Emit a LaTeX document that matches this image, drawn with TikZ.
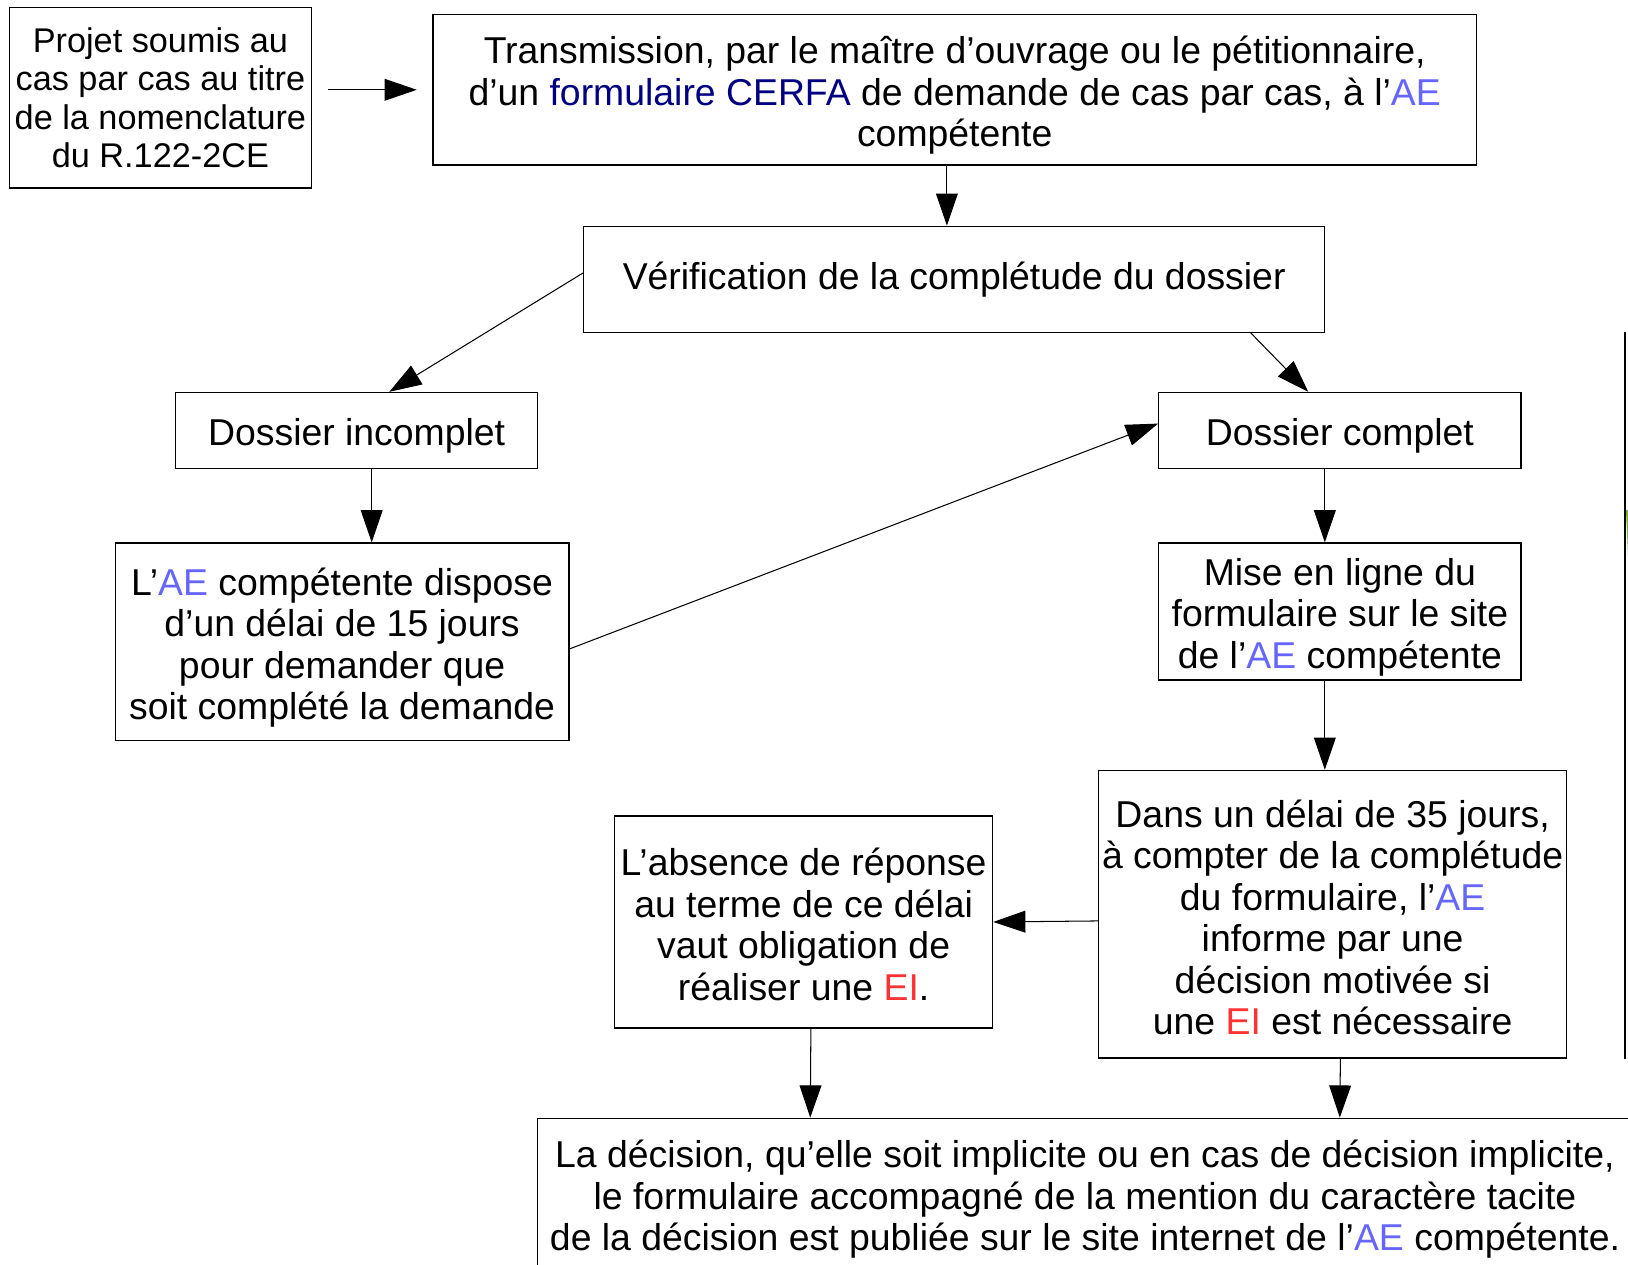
\documentclass[tikz,border=0pt]{standalone}
\usepackage{fontspec}
\setmainfont{Liberation Sans}
\usepackage{xcolor}
\usetikzlibrary{arrows.meta}
\definecolor{aeblue}{HTML}{6666FF}
\definecolor{cerfablue}{HTML}{000080}
\definecolor{eired}{HTML}{FF3333}
\definecolor{edgegreen}{HTML}{77B032}
\newcommand{\AEtxt}{\textcolor{aeblue}{AE}}
\newcommand{\EItxt}{\textcolor{eired}{EI}}
\newcommand{\tstrut}[1]{\rule{0pt}{#1pt}}

\begin{document}
\begin{tikzpicture}[x=0.5pt,y=-0.5pt,font=\fontsize{18pt}{20pt}\selectfont,blk/.style 2 args={draw,line width=0.6pt,align=center,inner sep=0pt,minimum width=#1*0.5pt,minimum height=#2*0.5pt},arr/.style={line width=0.5pt,-{Triangle[length=15.5pt,width=10.5pt]}}]
\useasboundingbox[fill=white] (0,0) rectangle (1568,1218);
\clip (0,0) rectangle (1568,1218);
% boxes
\node[blk={291}{174},font=\fontsize{16.5pt}{18.5pt}\selectfont] (projet) at (154.5,94) {Projet soumis au\\cas par cas au titre\\de la nomenclature\\du R.122-2CE};
\node[blk={1005}{145}] (transm) at (919.5,86.5) {\tstrut{18.5}Transmission, par le maître d’ouvrage ou le pétitionnaire,\\d’un \textcolor{cerfablue}{formulaire CERFA} de demande de cas par cas, à l’\AEtxt\\compétente};
\node[blk={714}{102}] (verif) at (919,269) {Vérification de la complétude du dossier};
\node[blk={349}{73}] (incompl) at (343.5,414.5) {\tstrut{18}Dossier incomplet};
\node[blk={349}{73}] (compl) at (1290.5,414.5) {\tstrut{18}Dossier complet};
\node[blk={437}{190}] (delai15) at (329.5,618) {\tstrut{19}L’\AEtxt{} compétente dispose\\d’un délai de 15 jours\\pour demander que\\soit complété la demande};
\node[blk={349}{132}] (enligne) at (1290.5,589) {\tstrut{18.5}Mise en ligne du\\formulaire sur le site\\de l’\AEtxt{} compétente};
\node[blk={451}{277}] (delai35) at (1283.5,880.5) {\tstrut{16.5}Dans un délai de 35 jours,\\à compter de la complétude\\du formulaire, l’\AEtxt\\informe par une\\décision motivée si\\une \EItxt{} est nécessaire};
\node[blk={364}{204}] (absence) at (774,888) {\tstrut{15.5}L’absence de réponse\\au terme de ce délai\\vaut obligation de\\réaliser une \EItxt.};
\node[blk={1054}{156}] (publi) at (1045,1155) {La décision, qu’elle soit implicite ou en cas de décision implicite,\\le formulaire accompagné de la mention du caractère tacite\\de la décision est publiée sur le site internet de l’\AEtxt{} compétente.};
% arrows
\draw[arr,shorten <=7.5pt,shorten >=7.5pt] (projet.east |- transm.west) -- (transm.west);
\draw[arr] ([xshift=-3.75pt]transm.south) -- ([xshift=-3.5pt]verif.north);
\draw[arr] ([yshift=3pt]verif.west) -- ([xshift=15.75pt]incompl.north);
\draw[arr] ([xshift=-36pt]verif.south east) -- ([xshift=-15.25pt]compl.north);
\draw[arr] ([xshift=7.25pt]incompl.south) -- ([xshift=14.25pt]delai15.north);
\draw[arr] ([yshift=-3.5pt]delai15.east) -- ([yshift=3.25pt]compl.west);
\foreach \a/\b in {compl/enligne} {
   \draw[arr] ([xshift=-7.25pt]\a.south) -- ([xshift=-7.25pt]\b.north);
}
\draw[arr] ([xshift=-7.25pt]enligne.south) -- ([xshift=-3.75pt]delai35.north);
\draw[arr] ([yshift=-3.25pt]delai35.west) -- (absence.east);
\draw[arr] ([xshift=3.5pt]absence.south) -- ([xshift=131.5pt]publi.north west);
\draw[arr] ([xshift=3.75pt]delai35.south) -- ([xshift=386.5pt]publi.north west);
% cut edge on the right
\draw[line width=0.6pt] (1565,320) -- (1565,1020);
\fill[edgegreen] (1566,491) -- (1568,491) -- (1568,535) -- cycle;
\end{tikzpicture}
\end{document}
